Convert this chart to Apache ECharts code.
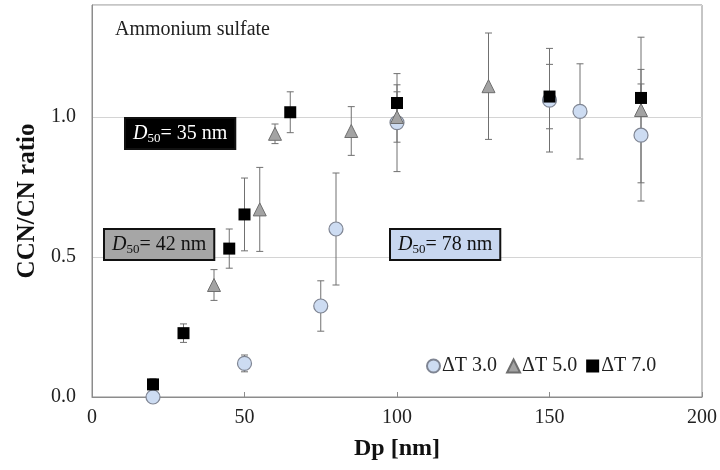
<!DOCTYPE html>
<html>
<head>
<meta charset="utf-8">
<script src="https://cdn.jsdelivr.net/npm/echarts@6/dist/echarts.min.js"></script>
<style>
  html, body { margin: 0; padding: 0; background: #fff; }
  #main { width: 720px; height: 470px; }
</style>
</head>
<body>
<div id="main"></div>
<script>
// data
var dp3 = [20, 50, 75, 80, 100, 150, 160, 180];
var ratio3 = [0.0, 0.12, 0.325, 0.60, 0.98, 1.06, 1.02, 0.935];
var err3 = [0.01, 0.03, 0.09, 0.2, 0.175, 0.185, 0.17, 0.235];

var dp5 = [40, 55, 60, 85, 100, 130, 180];
var ratio5 = [0.40, 0.67, 0.94, 0.95, 1.0, 1.11, 1.025];
var err5 = [0.055, 0.15, 0.035, 0.087, 0.09, 0.19, 0.26];

var dp7 = [20, 30, 45, 50, 65, 100, 150, 180];
var ratio7 = [0.045, 0.228, 0.53, 0.652, 1.017, 1.05, 1.073, 1.068];
var err7 = [0.02, 0.033, 0.07, 0.13, 0.073, 0.065, 0.115, 0.05];

var names = ['\u0394T 3.0', '\u0394T 5.0', '\u0394T 7.0'];
var xTicks = [0, 50, 100, 150, 200];
var yTicks = [0, 0.5, 1.0];

var serif = "'Liberation Serif', 'DejaVu Serif', serif";

function pts(xs, ys) {
  var out = [];
  for (var i = 0; i < xs.length; i++) out.push([xs[i], ys[i]]);
  return out;
}
function bars(xs, ys, es) {
  var out = [];
  for (var i = 0; i < xs.length; i++) out.push([xs[i], ys[i] - es[i], ys[i] + es[i]]);
  return out;
}

// 误差线
function errorBar(params, api) {
  var x = api.value(0);
  var lo = api.coord([x, api.value(1)]);
  var hi = api.coord([x, api.value(2)]);
  var cap = 3.5;
  var st = { stroke: '#707070', lineWidth: 1 };
  return {
    type: 'group',
    children: [
      { type: 'line', shape: { x1: lo[0], y1: lo[1], x2: hi[0], y2: hi[1] }, style: st },
      { type: 'line', shape: { x1: lo[0] - cap, y1: lo[1], x2: lo[0] + cap, y2: lo[1] }, style: st },
      { type: 'line', shape: { x1: hi[0] - cap, y1: hi[1], x2: hi[0] + cap, y2: hi[1] }, style: st }
    ]
  };
}

function label(x, y, text, bg, fg) {
  return {
    type: 'text',
    left: x,
    top: y,
    z: 100,
    style: {
      text: '{i|D}{s|50}{n|= ' + text + '}',
      rich: {
        i: { fontFamily: serif, fontStyle: 'italic', fontSize: 20, fill: fg },
        s: { fontFamily: serif, fontSize: 13, fill: fg, padding: [9, 0, 0, 0] },
        n: { fontFamily: serif, fontSize: 20, fill: fg }
      },
      backgroundColor: bg,
      borderColor: '#111',
      borderWidth: 2,
      padding: [4, 7, 3, 7]
    }
  };
}

var chart = echarts.init(document.getElementById('main'), null, { renderer: 'canvas' });

var option = {
  animation: false,
  backgroundColor: '#fff',
  grid: {
    left: 92, right: 15, top: 5, bottom: 73,
    show: true, borderColor: '#8c8c8c', borderWidth: 1
  },
  legend: {
    left: 421, top: 351,
    itemWidth: 13, itemHeight: 13, itemGap: 9,
    textStyle: { fontFamily: serif, fontSize: 20, color: '#222', padding: [0, 0, 0, -3] },
    data: names
  },
  xAxis: {
    type: 'value', min: xTicks[0], max: xTicks[xTicks.length - 1], interval: 50,
    name: 'Dp [nm]', nameLocation: 'middle', nameGap: 40,
    nameTextStyle: { fontFamily: serif, fontSize: 24, fontWeight: 'bold', color: '#111' },
    axisLine: { lineStyle: { color: '#8c8c8c' } },
    axisTick: { inside: true, length: 5, lineStyle: { color: '#8c8c8c' } },
    axisLabel: { fontFamily: serif, fontSize: 20, color: '#222', margin: 11 },
    splitLine: { show: false }
  },
  yAxis: {
    type: 'value', min: 0, max: 1.4, interval: 0.5,
    name: 'CCN/CN ratio', nameLocation: 'middle', nameGap: 50,
    nameTextStyle: { fontFamily: serif, fontSize: 25, fontWeight: 'bold', color: '#111' },
    axisLine: { show: true, lineStyle: { color: '#8c8c8c' } },
    axisTick: { show: false },
    axisLabel: {
      fontFamily: serif, fontSize: 20, color: '#222', margin: 16,
      formatter: function (v) {
        return yTicks.indexOf(Math.round(v * 10) / 10) >= 0 ? v.toFixed(1) : '';
      }
    },
    splitLine: { lineStyle: { color: '#d4d4d4' } }
  },
  graphic: [
    {
      type: 'text', left: 115, top: 20, z: 100,
      style: { text: 'Ammonium sulfate', fontFamily: serif, fontSize: 20, fill: '#222' }
    },
    label(124, 117, '35 nm', '#000', '#fff'),
    label(103, 228, '42 nm', '#a6a6a6', '#111'),
    label(389, 228, '78 nm', '#c8d7f0', '#111')
  ],
  series: [
    { type: 'custom', renderItem: errorBar, data: bars(dp3, ratio3, err3), z: 1, silent: true },
    { type: 'custom', renderItem: errorBar, data: bars(dp5, ratio5, err5), z: 1, silent: true },
    { type: 'custom', renderItem: errorBar, data: bars(dp7, ratio7, err7), z: 1, silent: true },
    {
      name: names[0], type: 'scatter', symbol: 'circle', symbolSize: 14, z: 3,
      itemStyle: { color: '#cddcf2', borderColor: '#7f8593', borderWidth: 1.2, opacity: 1 },
      data: pts(dp3, ratio3)
    },
    {
      name: names[1], type: 'scatter', symbol: 'triangle', symbolSize: 13, z: 4,
      itemStyle: { color: '#a3a3a3', borderColor: '#6e6e6e', borderWidth: 1, opacity: 1 },
      data: pts(dp5, ratio5)
    },
    {
      name: names[2], type: 'scatter', symbol: 'rect', symbolSize: 12, z: 5,
      itemStyle: { color: '#000', opacity: 1 },
      data: pts(dp7, ratio7)
    }
  ]
};

chart.setOption(option);
</script>
</body>
</html>
